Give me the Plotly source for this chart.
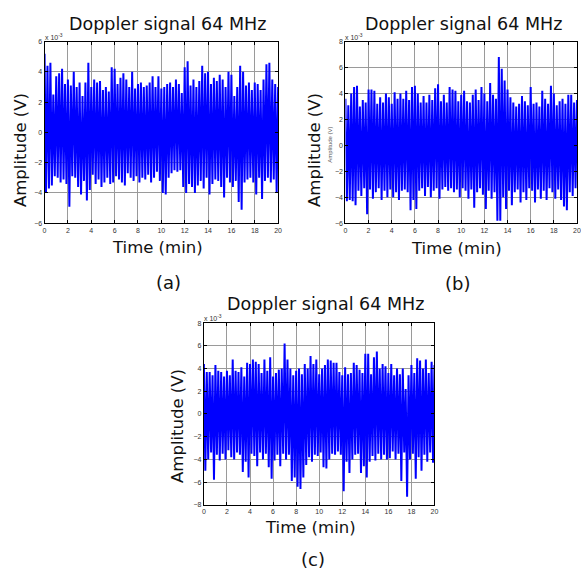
import plotly.graph_objects as go

W, H = 581, 574

# Time grid (min) at which envelope extremes were read
time_min = [i * 0.25 for i in range(81)]

# Panel (a): upper / lower extremes (x 1e-3 V)
a_hi = [5.2, 4.4, 4.6, 2.5, 3.7, 3.9, 4.2, 3.2, 3.5, 3.1, 4.0, 3.0, 3.3, 2.4, 3.3, 4.6,
        3.0, 3.5, 3.3, 3.4, 2.8, 3.0, 2.7, 4.3, 4.2, 3.2, 3.6, 3.9, 3.5, 3.0, 4.0, 2.9,
        3.2, 3.3, 3.0, 3.1, 3.3, 3.7, 3.0, 3.7, 2.9, 3.0, 3.2, 3.3, 3.0, 3.5, 3.2, 2.6,
        4.3, 4.7, 3.1, 3.5, 3.0, 3.4, 4.4, 3.9, 4.0, 3.2, 3.6, 3.4, 3.8, 3.5, 3.0, 4.0,
        3.8, 2.4, 3.0, 4.4, 4.0, 3.1, 3.3, 2.8, 3.3, 3.2, 2.8, 3.5, 4.5, 4.6, 3.5, 3.2, 3.0]
a_lo = [-4.0, -3.7, -3.5, -2.9, -3.0, -3.3, -3.1, -3.4, -4.9, -2.9, -3.0, -3.6, -4.1, -3.2,
        -4.5, -3.8, -2.8, -3.4, -3.1, -3.6, -3.3, -3.0, -3.4, -3.3, -2.9, -3.1, -3.3, -3.5,
        -2.7, -3.0, -3.2, -2.9, -3.3, -3.0, -3.1, -2.8, -3.3, -3.0, -2.6, -3.2, -4.0, -4.1,
        -3.0, -2.7, -2.5, -2.6, -2.5, -3.6, -4.0, -3.4, -3.6, -4.0, -3.5, -3.2, -3.7, -3.0,
        -4.1, -3.4, -3.1, -3.2, -3.6, -4.3, -3.0, -3.3, -3.6, -3.2, -4.6, -5.1, -3.3, -3.1,
        -3.0, -3.3, -4.1, -3.0, -4.4, -3.2, -3.0, -3.3, -3.1, -4.0, -3.5]

# Panel (b)
b_hi = [3.6, 3.1, 4.0, 4.5, 4.6, 3.0, 3.5, 3.3, 4.3, 4.3, 4.2, 3.2, 3.7, 3.3, 4.0, 3.7,
        3.2, 4.1, 3.6, 4.0, 3.6, 4.2, 3.5, 4.5, 4.6, 4.0, 3.3, 3.8, 3.3, 3.9, 3.5, 4.4,
        4.7, 3.4, 3.9, 3.3, 4.5, 4.3, 4.2, 3.4, 3.9, 4.2, 3.4, 3.3, 3.9, 4.3, 3.5, 4.5,
        4.0, 3.4, 4.8, 3.9, 3.6, 6.8, 5.9, 5.0, 4.3, 3.7, 3.3, 3.0, 3.2, 3.8, 3.4, 3.1,
        4.5, 3.2, 3.3, 3.0, 4.2, 3.6, 3.2, 4.6, 4.0, 3.1, 3.4, 3.6, 3.2, 3.9, 3.9, 3.3, 3.5]
b_lo = [-4.3, -4.2, -4.3, -4.6, -3.5, -3.9, -3.3, -5.3, -3.4, -4.1, -3.6, -3.3, -4.2, -3.5,
        -4.0, -3.4, -4.0, -3.6, -4.2, -3.5, -3.4, -3.6, -5.0, -4.2, -4.9, -3.5, -3.3, -3.9,
        -3.2, -4.0, -3.5, -3.3, -4.1, -3.4, -3.2, -3.5, -3.3, -3.6, -3.4, -4.0, -3.3, -3.5,
        -4.1, -3.4, -4.8, -3.6, -3.3, -3.8, -4.9, -3.5, -4.1, -3.6, -5.8, -5.8, -4.0, -4.9,
        -3.5, -4.6, -3.6, -3.4, -4.4, -3.6, -4.2, -3.3, -3.5, -4.4, -3.4, -4.1, -3.5, -4.2,
        -3.3, -3.6, -4.1, -3.4, -4.2, -4.7, -5.0, -3.6, -3.9, -3.3, -3.5]

# Panel (c)
c_hi = [4.4, 3.7, 3.7, 3.4, 4.3, 3.8, 3.7, 3.3, 3.8, 3.4, 4.8, 3.8, 3.7, 4.1, 3.3, 4.5,
        4.4, 4.8, 4.6, 4.4, 3.6, 4.8, 3.8, 5.0, 3.3, 3.6, 3.9, 4.0, 6.2, 4.8, 4.0, 3.4,
        3.8, 4.0, 3.5, 4.4, 4.0, 5.1, 4.4, 4.8, 3.5, 4.0, 4.3, 4.8, 4.7, 4.5, 4.5, 3.7,
        3.4, 4.1, 3.5, 3.6, 4.5, 4.3, 3.9, 3.6, 5.3, 5.3, 3.5, 5.0, 5.5, 4.0, 4.4, 4.2,
        3.6, 4.4, 3.4, 4.0, 3.5, 4.0, 2.2, 3.4, 4.3, 3.6, 4.9, 4.7, 4.0, 4.8, 3.6, 4.6, 4.3]
c_lo = [-5.0, -4.0, -3.4, -5.8, -3.6, -4.1, -3.5, -4.0, -3.2, -3.8, -4.0, -3.4, -3.6, -5.1,
        -4.2, -5.6, -3.5, -3.7, -4.6, -3.4, -4.0, -3.5, -4.7, -5.7, -4.1, -3.6, -4.6, -3.5,
        -4.0, -3.6, -5.9, -5.6, -6.4, -6.6, -5.6, -4.5, -3.8, -4.2, -3.6, -3.7, -3.4, -4.7,
        -4.8, -4.0, -3.5, -3.6, -3.3, -3.6, -6.8, -4.2, -5.2, -4.0, -3.6, -3.5, -5.2, -4.6,
        -5.6, -4.2, -3.7, -4.1, -3.5, -4.0, -3.6, -4.0, -3.9, -3.3, -4.0, -3.5, -5.9, -3.4,
        -7.3, -4.0, -3.5, -5.7, -3.8, -5.0, -3.6, -4.2, -3.4, -4.3, -4.2]

title_text = "Doppler signal 64 MHz"
x_label = "Time (min)"
y_label = "Amplitude (V)"
x_ticks = [0, 2, 4, 6, 8, 10, 12, 14, 16, 18, 20]
panel_tags = ["(a)", "(b)", "(c)"]

FONT = "DejaVu Sans"


def px(x):
    return x / W


def py(y):
    return 1 - y / H


panels = [
    dict(hi=a_hi, lo=a_lo, x0=43, x1=279, y0=38, y1=222, yr=[-6, 6], yt=[-6, -4, -2, 0, 2, 4, 6],
         title=(167, 20), ylab=(18, 148), xlab=(157, 247), tag=(168, 282)),
    dict(hi=b_hi, lo=b_lo, x0=347, x1=581, y0=38, y1=222, yr=[-6, 8], yt=[-6, -4, -2, 0, 2, 4, 6, 8],
         title=(466, 20), ylab=(315, 148), xlab=(459, 248), tag=(460, 283)),
    dict(hi=c_hi, lo=c_lo, x0=204, x1=437, y0=323, y1=507, yr=[-8, 8],
         yt=[-8, -6, -4, -2, 0, 2, 4, 6, 8],
         title=(327, 304), ylab=(178, 427), xlab=(312, 530), tag=(314, 562)),
]

fig = go.Figure()
annotations = []
for i, p in enumerate(panels, start=1):
    xs, ys = [], []
    for t, h, l in zip(time_min, p["hi"], p["lo"]):
        xs += [t, t + 0.125]
        ys += [h, l]
    xa = "x" if i == 1 else f"x{i}"
    ya = "y" if i == 1 else f"y{i}"
    fig.add_trace(go.Scatter(x=xs, y=ys, mode="lines",
                             line=dict(color="#0000ff", width=2.0, simplify=False),
                             xaxis=xa, yaxis=ya, showlegend=False, hoverinfo="skip"))
    axis_common = dict(showline=True, linecolor="black", linewidth=1, mirror="ticks",
                       ticks="inside", ticklen=3, tickcolor="black",
                       showgrid=True, gridcolor="#9a9a9a", gridwidth=1.4, zeroline=False,
                       tickfont=dict(family="Liberation Sans", size=7, color="#333333"))
    fig.layout[f"xaxis{'' if i == 1 else i}"] = dict(
        domain=[px(p["x0"]), px(p["x1"])], range=[0, 20], tickvals=x_ticks,
        anchor=ya, **axis_common)
    fig.layout[f"yaxis{'' if i == 1 else i}"] = dict(
        domain=[py(p["y1"]), py(p["y0"])], range=p["yr"], tickvals=p["yt"],
        anchor=xa, **axis_common)
    annotations += [
        dict(text=title_text, x=px(p["title"][0]), y=py(p["title"][1]),
             font=dict(family=FONT, size=17.5, color="#111")),
        dict(text=y_label, x=px(p["ylab"][0]), y=py(p["ylab"][1]), textangle=-90,
             font=dict(family=FONT, size=16.5, color="#111")),
        dict(text=x_label, x=px(p["xlab"][0]), y=py(p["xlab"][1]),
             font=dict(family=FONT, size=16.5, color="#111")),
        dict(text=panel_tags[i - 1], x=px(p["tag"][0]), y=py(p["tag"][1]),
             font=dict(family=FONT, size=18, color="#111")),
        dict(text="x 10<sup>-3</sup>", x=px(p["x0"] - 2), y=py(p["y0"] - 5), xanchor="left",
             font=dict(family="Liberation Sans", size=7, color="#333")),
    ]

annotations.append(dict(text=y_label, x=px(332), y=py(143), textangle=-90,
                        font=dict(family="Liberation Sans", size=6, color="#555")))

for a in annotations:
    a.setdefault("xanchor", "center")
    a.update(xref="paper", yref="paper", yanchor="middle", showarrow=False)

fig.update_layout(width=W, height=H, margin=dict(l=0, r=0, t=0, b=0),
                  paper_bgcolor="white", plot_bgcolor="white", annotations=annotations)

fig.write_html("out.html")
